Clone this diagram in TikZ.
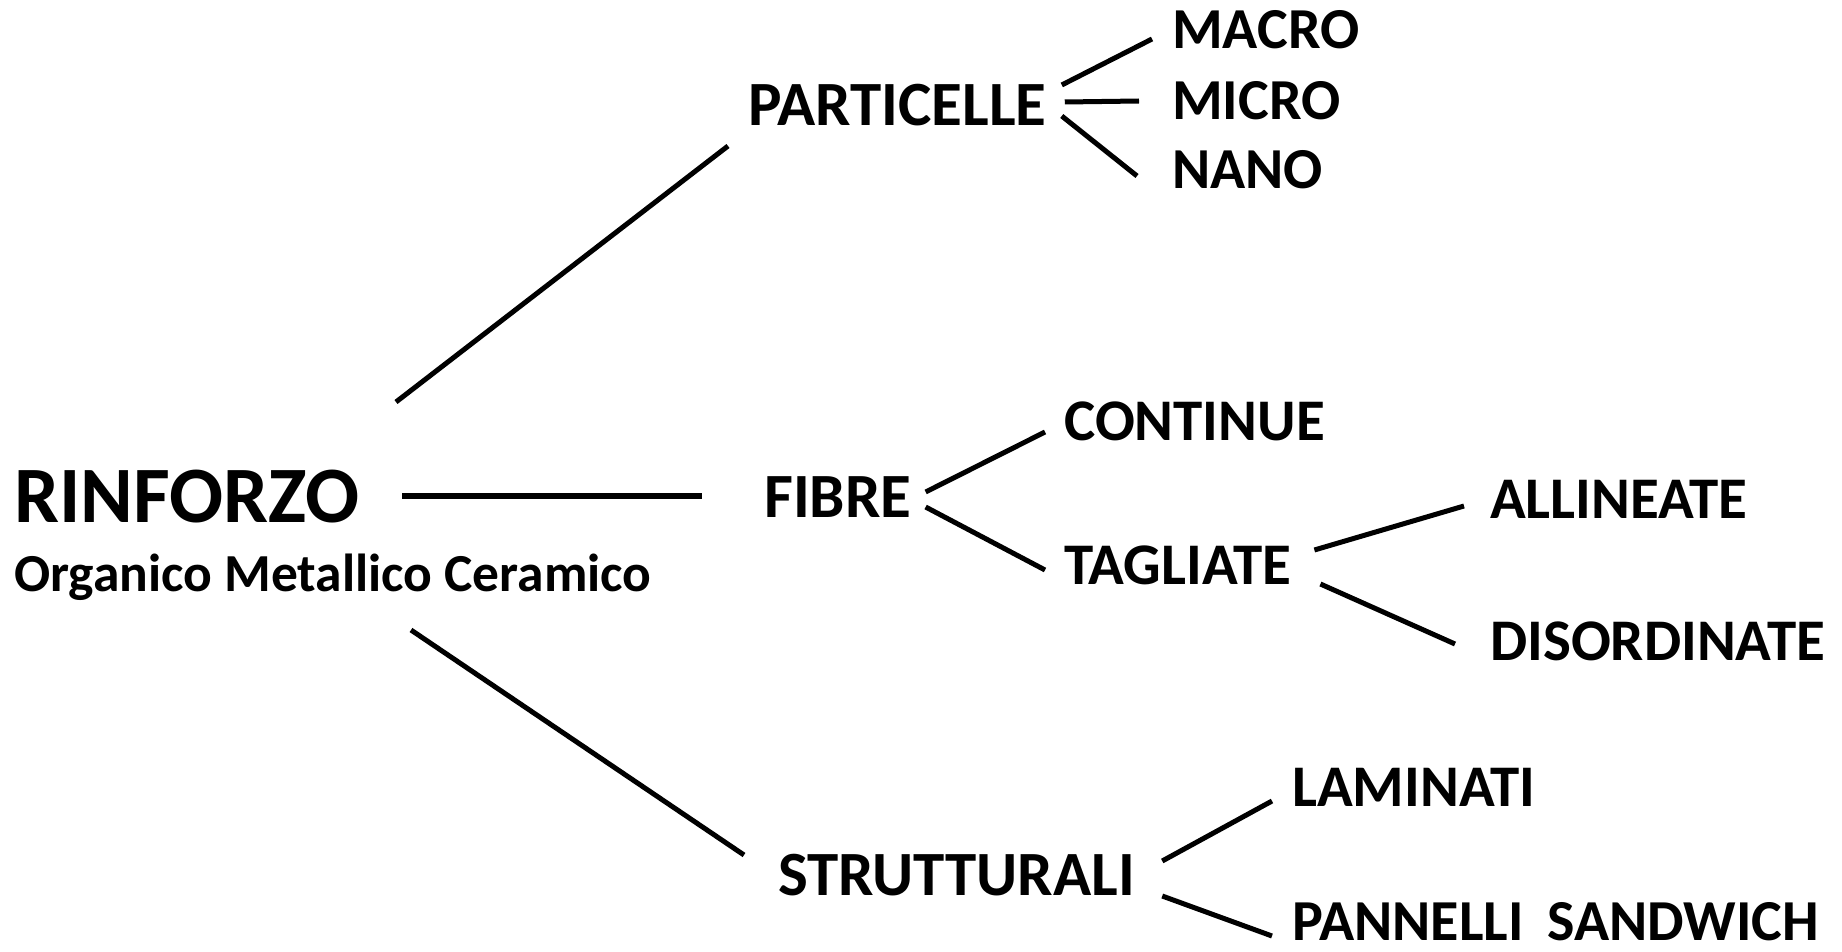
\documentclass[tikz,border=0pt]{standalone}
\usepackage{fontspec}
\setmainfont{Carlito}
\usetikzlibrary{calc}
\begin{document}
\begin{tikzpicture}[x=1pt,y=-1pt,
  lbl/.style={anchor=base west,inner sep=0pt,font=\fontsize{59}{66}\selectfont\bfseries},
  big/.style={lbl,font=\fontsize{63}{70}\selectfont\bfseries},
  conn/.style={line width=5pt}]
\useasboundingbox[fill=white] (0,0) rectangle (1842,952);
\node[lbl,font=\fontsize{80}{88}\selectfont\bfseries] (rinf) at (14,522) {RINFORZO};
\node[lbl,font=\fontsize{53.5}{60}\selectfont\bfseries] (org) at (14,591) {Organico Metallico Ceramico};
\node[big] (part) at (748,126) {PARTICELLE};
\node[lbl,font=\fontsize{58}{66}\selectfont\bfseries] (macro) at (1172,49) {MACRO};
\node[lbl,font=\fontsize{58}{66}\selectfont\bfseries] (micro) at (1172,120) {MICRO};
\node[lbl,font=\fontsize{58}{66}\selectfont\bfseries] (nano) at (1172,189) {NANO};
\node[big] (fibre) at (764,517) {FIBRE};
\node[lbl] (cont) at (1064,440) {CONTINUE};
\node[lbl] (tagl) at (1064,584) {TAGLIATE};
\node[lbl] (alli) at (1490,518) {ALLINEATE};
\node[lbl] (diso) at (1490,660) {DISORDINATE};
\node[big] (strut) at (778,895) {STRUTTURALI};
\node[lbl] (lami) at (1292,806) {LAMINATI};
\node[lbl,font=\fontsize{58}{66}\selectfont\bfseries] (pann) at (1292,940) {PANNELLI\hspace{24pt}SANDWICH};
% level 1
\draw[conn] ($(rinf.base west)+(382,-120)$) -- ($(part.base west)+(-20,20)$);
\draw[line width=6.5pt] ($(rinf.base west)+(388,-26)$) -- ($(fibre.base west)+(-62,-21)$);
\draw[conn] ($(org.base west)+(397,39)$) -- ($(strut.base west)+(-34,-40)$);
% particelle
\draw[conn] ($(part.base east)+(15,-41)$) -- ($(macro.base west)+(-20,-10)$);
\draw[conn] ($(part.base east)+(18,-24)$) -- ($(micro.base west)+(-33,-19)$);
\draw[conn] ($(part.base east)+(15,-10)$) -- ($(nano.base west)+(-35,-13)$);
% fibre
\draw[conn] ($(fibre.base east)+(14,-25)$) -- ($(cont.base west)+(-19,-8)$);
\draw[conn] ($(fibre.base east)+(14,-10)$) -- ($(tagl.base west)+(-19,-14)$);
\draw[conn] ($(tagl.base east)+(23,-34)$) -- ($(alli.base west)+(-26,-12)$);
\draw[conn] ($(tagl.base east)+(29,0)$) -- ($(diso.base west)+(-35,-16)$);
% strutturali
\draw[conn] ($(strut.base east)+(27,-34)$) -- ($(lami.base west)+(-20,-5)$);
\draw[conn] ($(strut.base east)+(27,1)$) -- ($(pann.base west)+(-20,-4)$);
\end{tikzpicture}
\end{document}
